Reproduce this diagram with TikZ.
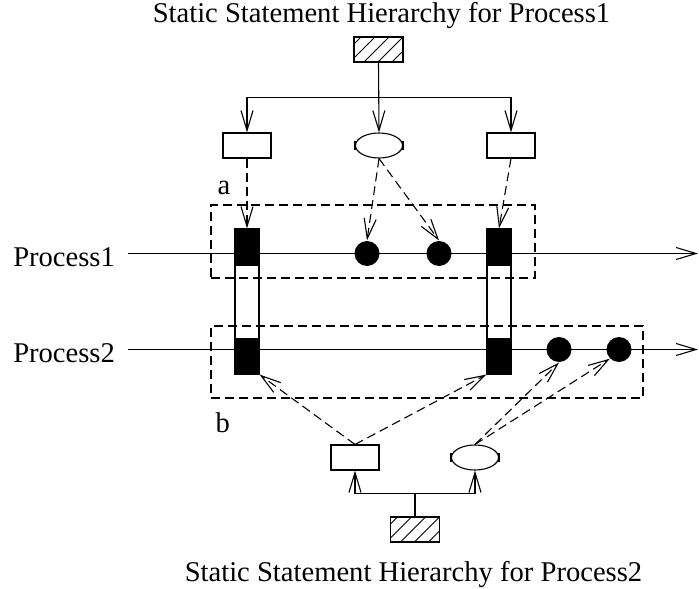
\documentclass[tikz,border=0pt]{standalone}
\usepackage{fontspec}
\setmainfont{Liberation Serif}
\usetikzlibrary{arrows.meta,shapes.geometric}
\begin{document}
\begin{tikzpicture}[x=1pt,y=-1pt,line width=1.1pt,
  tip/.style={-{Straight Barb[length=20pt,width=12pt]}},
  dashline/.style={dash pattern=on 9pt off 5pt},
  txt/.style={inner sep=0pt,font=\fontsize{28.6}{34}\selectfont},
  leaf/.style={draw,minimum width=48pt,minimum height=25pt,inner sep=0pt},
  waitnode/.style={draw,ellipse,minimum width=47pt,minimum height=25pt,inner sep=0pt},
  hatched/.style={draw,minimum width=49pt,minimum height=25pt,inner sep=0pt,
    path picture={\foreach \k in {-2,...,3}{
      \draw[black,line width=1pt] ([xshift=\k*14pt-4pt]path picture bounding box.south west) -- ++(40pt,40pt);}}},
  syncbar/.style={draw,fill=white,minimum width=24pt,minimum height=145pt,inner sep=0pt,
    path picture={
      \fill[black] (path picture bounding box.north west) rectangle ([yshift=-37pt]path picture bounding box.north east);
      \fill[black] (path picture bounding box.south west) rectangle ([yshift=36pt]path picture bounding box.south east);}},
  dot/.style={circle,fill=black,minimum size=25pt,inner sep=0pt},
  region/.style={draw,dashline,inner sep=0pt}]
\useasboundingbox (0,0) rectangle (699,589);

% titles
\node[txt,anchor=base] (t1) at (381.5,22) {Static Statement Hierarchy for Process1};
\node[txt,anchor=base] (t2) at (413.5,581) {Static Statement Hierarchy for Process2};

% process time lines
\node[txt,anchor=base west] (pn1) at (12.7,266.5) {Process1};
\node[txt,anchor=base west] (pn2) at (12.7,362) {Process2};
\coordinate (p1s) at (128,253.5);
\coordinate (p1e) at (698,253.5);
\coordinate (p2s) at (128,349.5);
\coordinate (p2e) at (698,349.5);
\draw[tip] (p1s) -- (p1e);
\draw[tip] (p2s) -- (p2e);

% synchronisation bars and statements
\node[syncbar] (sA) at (247,301.5) {};
\node[syncbar] (sB) at (499,301.5) {};
\node[dot] (d1) at (367,253.5) {};
\node[dot] (d2) at (439,253.5) {};
\node[dot] (d3) at (559,349.5) {};
\node[dot] (d4) at (619,349.5) {};

% dashed regions
\node[region,minimum width=324pt,minimum height=73pt] (ra) at (373,241.5) {};
\node[region,minimum width=432pt,minimum height=72pt] (rb) at (427,362) {};
\node[txt,anchor=base west] (la) at (217,194) {a};
\node[txt,anchor=base west] (lb) at (215,432) {b};

% hierarchy of Process1
\node[hatched] (h1) at (378.5,49.5) {};
\node[leaf] (l1) at (247,145.5) {};
\node[waitnode] (w1) at (379,145.5) {};
\node[leaf] (r1) at (511,145.5) {};
\draw[tip] (h1.south) -- (w1.north);
\draw[tip] (h1.south) -- ++(0,35) -| (l1.north);
\draw[tip] (h1.south) -- ++(0,35) -| (r1.north);

% hierarchy of Process2
\node[leaf] (l2) at (355,457.5) {};
\node[waitnode] (w2) at (475,457.5) {};
\node[hatched] (h2) at (415,529.5) {};
\draw[tip] (h2.north) -- ++(0,-23) -| (l2.south);
\draw[tip] (h2.north) -- ++(0,-23) -| (w2.south);

% end marks of the wait statements
\foreach \w in {w1,w2}{
  \draw[line width=2.2pt] ([yshift=4.5pt]\w.west) -- ([yshift=-4.5pt]\w.west);
  \draw[line width=2.2pt] ([yshift=4.5pt]\w.east) -- ([yshift=-4.5pt]\w.east);
}

% mapping of statements onto the time lines
\draw[dashline,tip] (l1.south) -- (sA.north);
\draw[dashline,tip] (w1.south) -- (d1.north);
\draw[dashline,tip] (w1.south) -- (d2.north);
\draw[dashline,tip] (r1.south) -- (sB.north);
\draw[dashline,tip] (l2.north) -- (sA.south east);
\draw[dashline,tip] (l2.north) -- (sB.south west);
\draw[dashline,tip] (w2.north) -- (d3.south);
\draw[dashline,tip] (w2.north) -- (d4.south west);
\end{tikzpicture}
\end{document}
